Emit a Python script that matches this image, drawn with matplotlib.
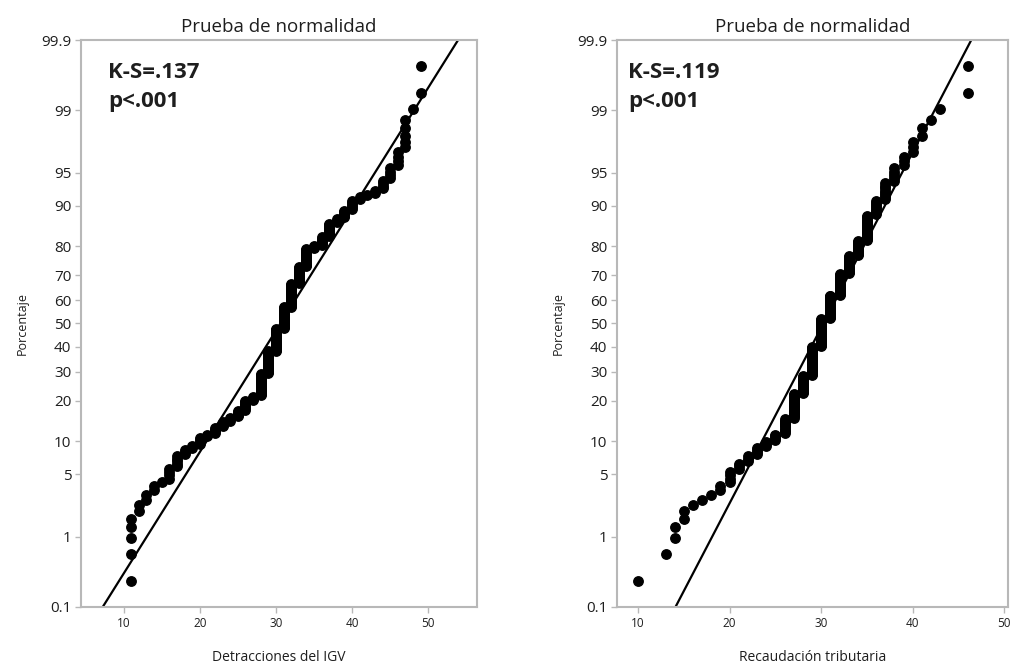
import numpy as np
import matplotlib
matplotlib.use('Agg')
import matplotlib.pyplot as plt
from matplotlib.ticker import FixedLocator, NullLocator
from statistics import NormalDist

# Detracciones del IGV: distinct values and number of observations at each
igv_vals = [11, 12, 13, 14, 15, 16, 17, 18, 19, 20, 21, 22, 23, 24, 25, 26, 27,
            28, 29, 30, 31, 32, 33, 34, 35, 36, 37, 38, 39, 40, 41, 42, 43, 44,
            45, 46, 47, 48, 49]
igv_counts = [5, 2, 2, 2, 1, 4, 5, 3, 2, 4, 2, 4, 4, 3, 5, 8, 4,
              22, 25, 27, 26, 27, 18, 17, 3, 7, 10, 3, 5, 5, 2, 1, 2, 4,
              4, 4, 5, 1, 2]

# Recaudación tributaria
rec_vals = [10, 13, 14, 15, 16, 17, 18, 19, 20, 21, 22, 23, 24, 25, 26, 27, 28,
            29, 30, 31, 32, 33, 34, 35, 36, 37, 38, 39, 40, 41, 42, 43, 46]
rec_counts = [1, 1, 2, 2, 1, 1, 1, 2, 4, 3, 3, 4, 3, 4, 10, 20, 18,
              32, 34, 28, 24, 18, 13, 18, 8, 8, 5, 3, 3, 2, 1, 1, 2]

ks_labels = ['K-S=.137', 'K-S=.119']
x_labels = ['Detracciones del IGV', 'Recaudación tributaria']

pct_ticks = [0.1, 1, 5, 10, 20, 30, 40, 50, 60, 70, 80, 90, 95, 99, 99.9]
pct_labels = ['0.1', '1', '5', '10', '20', '30', '40', '50', '60', '70',
              '80', '90', '95', '99', '99.9']
x_ticks = [10, 20, 30, 40, 50]

plt.rcParams['font.family'] = ['Open Sans', 'DejaVu Sans']

_nd = NormalDist()


def _ppf1(p):
    if p != p:
        return np.nan
    return _nd.inv_cdf(min(max(p / 100.0, 1e-9), 1 - 1e-9))


def _cdf1(z):
    if z != z:
        return np.nan
    return _nd.cdf(z) * 100.0


_ppf = np.vectorize(_ppf1, otypes=[float])
_cdf = np.vectorize(_cdf1, otypes=[float])


def fwd(p):
    return _ppf(np.asarray(p, dtype=float))


def inv(z):
    return _cdf(np.asarray(z, dtype=float))


fig = plt.figure(figsize=(10.16, 6.69), dpi=100)
ax1 = fig.add_axes([0.0797, 0.0927, 0.3898, 0.8475])
ax2 = fig.add_axes([0.6073, 0.0927, 0.3848, 0.8475])

grey = '#b8b8b8'
txt = '#1e1e1e'

panels = [(ax1, igv_vals, igv_counts, (4.4, 56.4)),
          (ax2, rec_vals, rec_counts, (7.7, 50.4))]

for k, (ax, vals, counts, xl) in enumerate(panels):
    data = np.repeat(vals, counts).astype(float)
    n = len(data)
    ranks = np.arange(1, n + 1)
    pos = (ranks - 0.3) / (n + 0.4) * 100  # median ranks

    ax.set_yscale('function', functions=(fwd, inv))

    mu = data.mean()
    sd = data.std(ddof=1)
    zl = np.array([-3.5, 3.5])
    ax.plot(mu + sd * zl, inv(zl), color='black', lw=1.6, zorder=2)
    ax.plot(data, pos, 'o', color='black', ms=6.8, mec='black', zorder=3)

    ax.set_xlim(*xl)
    ax.set_ylim(0.1, 99.9)
    ax.yaxis.set_major_locator(FixedLocator(pct_ticks))
    ax.yaxis.set_minor_locator(NullLocator())
    ax.set_yticklabels(pct_labels)
    ax.set_xticks(x_ticks)
    ax.set_xticklabels([str(t) for t in x_ticks])

    for s in ax.spines.values():
        s.set_color(grey)
        s.set_linewidth(1.5)
    ax.tick_params(colors=grey, labelcolor=txt, length=4, width=1)
    ax.tick_params(axis='x', labelsize=8.5)
    ax.tick_params(axis='y', labelsize=11, pad=3)

    ax.set_title('Prueba de normalidad', fontsize=13.5, color=txt, pad=6)
    ax.set_ylabel('Porcentaje', fontsize=9, color=txt, labelpad=9)
    ax.set_xlabel(x_labels[k], fontsize=10, color=txt, labelpad=14)

    tx = 0.068 if k == 0 else 0.028
    ax.text(tx, 0.962, ks_labels[k] + '\np<.001', transform=ax.transAxes,
            ha='left', va='top', fontsize=16, fontweight='bold', color=txt,
            linespacing=1.5)

fig.savefig('out.png', dpi=100, facecolor='white')
